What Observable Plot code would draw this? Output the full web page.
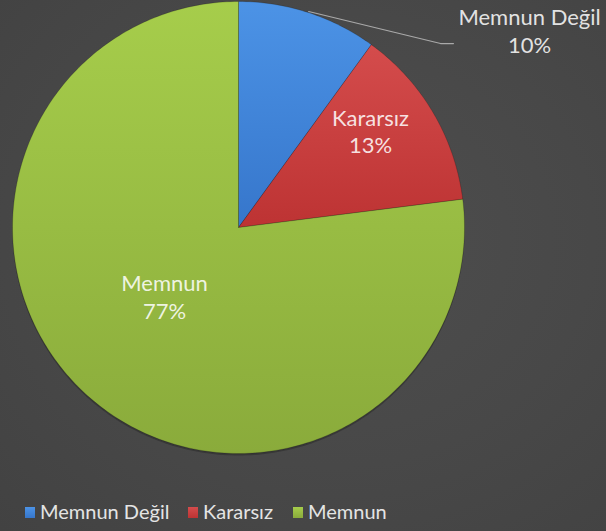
<!DOCTYPE html>
<html><head><meta charset="utf-8">
<script src="https://cdn.jsdelivr.net/npm/d3@7"></script>
<script src="https://cdn.jsdelivr.net/npm/@observablehq/plot@0.6"></script>
<style>
html,body{margin:0;padding:0;}
body{width:606px;height:531px;overflow:hidden;background:radial-gradient(ellipse at 55% 45%, #4e4e4e 0%, #484848 55%, #424242 100%);font-family:Lato,"Open Sans",sans-serif;}
#chart{position:relative;width:606px;height:480px;}
#legend{position:relative;width:606px;height:51px;}
.sw{position:absolute;top:27px;width:10px;height:11px;}
.lt{position:absolute;top:21px;font-size:20px;line-height:20px;color:#e4e4e4;white-space:nowrap;}
</style></head><body>
<div id="chart"></div><div id="legend"></div>
<script>
// ---- data ----
const categories = ["Memnun Değil", "Kararsız", "Memnun"];
const values = [10, 13, 77];
const percentLabels = ["10%", "13%", "77%"];

// ---- styles ----
const gradStops = [["#4c93e6", "#3676cb"], ["#d44c4c", "#bd3333"], ["#a6cd4b", "#8aab3b"]];
const legendLeft = [25, 188, 293];

// ---- layout ----
const W = 606, H = 480, CX = 238, CY = 227, R = 226;
const xDomain = [-CX / R, (W - CX) / R], yDomain = [-(H - CY) / R, CY / R];
const labelAt = [[1.288, 0.872], [0.584, 0.429], [-0.327, -0.305]];

const total = d3.sum(values);
let cum = 0;
const slices = categories.map((c, i) => {
  const a0 = cum / total * 2 * Math.PI; cum += values[i];
  const a1 = cum / total * 2 * Math.PI;
  return {c, i, a0, a1};
});
function arcPts(a0, a1, withCenter) {
  const out = withCenter ? [{x: 0, y: 0}] : [];
  const n = Math.max(2, Math.ceil((a1 - a0) / (Math.PI / 180)));
  for (let k = 0; k <= n; k++) { const a = a0 + (a1 - a0) * k / n; out.push({x: Math.sin(a), y: Math.cos(a)}); }
  if (withCenter) out.push({x: 0, y: 0});
  return out;
}
const blueMid = (slices[0].a0 + slices[0].a1) / 2;
const leader = [
  {x: Math.sin(blueMid) * 1.005, y: Math.cos(blueMid) * 1.005},
  {x: 0.894, y: 0.814},
  {x: 0.951, y: 0.814}
];
const labels = slices.map(s => ({text: categories[s.i] + "\n" + percentLabels[s.i], x: labelAt[s.i][0], y: labelAt[s.i][1]}));

const marks = [
  Plot.line(arcPts(0, 2 * Math.PI, false), {x: "x", y: "y", fill: "#2a2a2a", fillOpacity: 0.55, stroke: "none", dy: 2, dx: 0, curve: "linear"})
];
slices.forEach(s => {
  marks.push(Plot.line(arcPts(s.a0, s.a1, true), {x: "x", y: "y", fill: `url(#grad${s.i})`, stroke: "rgba(0,0,0,0.18)", strokeWidth: 1, curve: "linear"}));
});
marks.push(Plot.line(leader, {x: "x", y: "y", stroke: "#a9a9a9", strokeWidth: 1.2, curve: "linear"}));
marks.push(Plot.text(labels, {x: "x", y: "y", text: "text", fontSize: 22, lineHeight: 1.27, fill: "white", fillOpacity: 0.86, fontFamily: "Lato, 'Open Sans', sans-serif", textAnchor: "middle"}));

const svg = Plot.plot({
  width: W, height: H, margin: 0,
  x: {domain: xDomain, axis: null},
  y: {domain: yDomain, axis: null},
  style: {background: "transparent", overflow: "visible"},
  marks
});
const ns = "http://www.w3.org/2000/svg";
const defs = document.createElementNS(ns, "defs");
gradStops.forEach((g, i) => {
  const lg = document.createElementNS(ns, "linearGradient");
  lg.setAttribute("id", "grad" + i);
  lg.setAttribute("x1", "0"); lg.setAttribute("y1", "0"); lg.setAttribute("x2", "0"); lg.setAttribute("y2", "1");
  [[0, g[0]], [1, g[1]]].forEach(([o, c]) => {
    const st = document.createElementNS(ns, "stop");
    st.setAttribute("offset", o); st.setAttribute("stop-color", c);
    lg.appendChild(st);
  });
  defs.appendChild(lg);
});
svg.insertBefore(defs, svg.firstChild);
document.getElementById("chart").appendChild(svg);

const legend = document.getElementById("legend");
categories.forEach((c, i) => {
  const sw = document.createElement("div");
  sw.className = "sw";
  sw.style.left = legendLeft[i] + "px";
  sw.style.background = `linear-gradient(${gradStops[i][0]}, ${gradStops[i][1]})`;
  legend.appendChild(sw);
  const t = document.createElement("span");
  t.className = "lt";
  t.style.left = (legendLeft[i] + 15) + "px";
  t.textContent = c;
  legend.appendChild(t);
});
</script>
</body></html>
